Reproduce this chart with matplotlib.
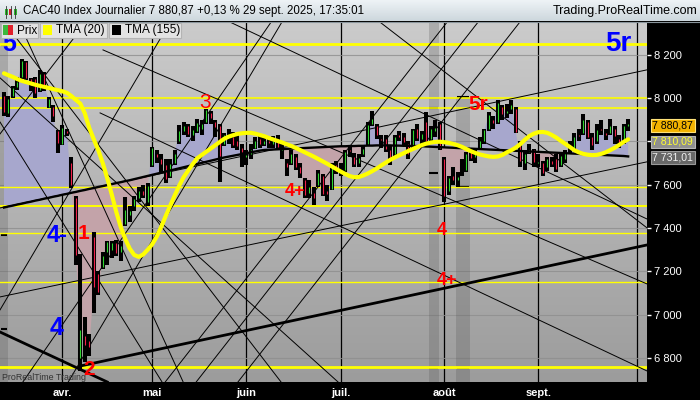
import numpy as np
import matplotlib.pyplot as plt
from matplotlib.colors import LinearSegmentedColormap
from matplotlib.patches import Rectangle
from matplotlib.transforms import blended_transform_factory

plt.rcParams['font.family'] = ['Liberation Sans', 'DejaVu Sans']

# CAC40 daily bars, 13 mars -> 29 sept. 2025 (one entry per trading day)
opens = [8010, 7930, 8010, 8050, 8100, 8165, 8090, 8090, 8040, 8110,
         7960, 7960, 7850, 7790, 7850, 7700, 7540, 6800, 6900, 6880,
         7360, 7190, 7220, 7290, 7300, 7330, 7290, 7420, 7460, 7500,
         7540, 7570, 7520, 7690, 7740, 7720, 7690, 7640, 7700, 7800,
         7850, 7870, 7830, 7850, 7860, 7890, 7930, 7890, 7870, 7790,
         7830, 7820, 7800, 7770, 7730, 7740, 7770, 7810, 7790, 7800,
         7790, 7810, 7760, 7700, 7700, 7730, 7680, 7620, 7560, 7560,
         7600, 7640, 7570, 7580, 7690, 7660, 7670, 7760, 7730, 7700,
         7740, 7790, 7880, 7870, 7810, 7810, 7760, 7740, 7830, 7820,
         7790, 7770, 7860, 7810, 7890, 7810, 7850, 7880, 7720, 7570,
         7640, 7620, 7660, 7670, 7750, 7730, 7770, 7800, 7860, 7900,
         7890, 7960, 7930, 7950, 7950, 7790, 7700, 7750, 7760, 7700,
         7700, 7680, 7710, 7720, 7690, 7720, 7760, 7770, 7830, 7840,
         7890, 7820, 7800, 7860, 7840, 7840, 7860, 7810, 7800, 7870]
highs = [8030, 8010, 8055, 8100, 8180, 8172, 8095, 8100, 8130, 8121,
         8006, 7970, 7855, 7876, 7860, 7729, 7550, 7280, 6990, 6910,
         7380, 7200, 7290, 7340, 7340, 7345, 7340, 7545, 7500, 7550,
         7590, 7600, 7610, 7775, 7760, 7740, 7720, 7720, 7760, 7876,
         7890, 7880, 7870, 7905, 7900, 7950, 7940, 7900, 7880, 7840,
         7860, 7845, 7830, 7790, 7760, 7790, 7820, 7835, 7820, 7815,
         7825, 7830, 7790, 7720, 7760, 7740, 7700, 7630, 7620, 7590,
         7670, 7650, 7600, 7700, 7710, 7700, 7760, 7780, 7745, 7740,
         7780, 7890, 7940, 7880, 7830, 7830, 7780, 7830, 7850, 7840,
         7800, 7860, 7880, 7850, 7935, 7870, 7900, 7890, 7730, 7640,
         7680, 7660, 7720, 7750, 7770, 7770, 7820, 7860, 7935, 7920,
         7990, 7970, 7975, 7990, 7960, 7800, 7760, 7790, 7765, 7740,
         7710, 7730, 7730, 7740, 7750, 7760, 7800, 7840, 7860, 7925,
         7900, 7840, 7880, 7900, 7860, 7905, 7870, 7830, 7880, 7905]
lows = [7920, 7915, 8000, 8040, 8090, 8085, 8035, 8000, 8030, 8035,
        7955, 7890, 7747, 7784, 7825, 7585, 7230, 6740, 6780, 6810,
        7010, 7090, 7210, 7230, 7260, 7270, 7250, 7410, 7430, 7480,
        7520, 7540, 7500, 7680, 7700, 7660, 7608, 7630, 7690, 7790,
        7830, 7820, 7800, 7840, 7830, 7880, 7880, 7820, 7613, 7780,
        7790, 7770, 7760, 7680, 7690, 7720, 7765, 7770, 7780, 7770,
        7770, 7760, 7720, 7640, 7690, 7670, 7630, 7540, 7540, 7505,
        7590, 7550, 7525, 7575, 7650, 7640, 7660, 7730, 7680, 7680,
        7730, 7780, 7870, 7810, 7770, 7750, 7690, 7730, 7800, 7780,
        7720, 7760, 7800, 7790, 7790, 7800, 7820, 7760, 7520, 7555,
        7600, 7590, 7640, 7660, 7710, 7700, 7760, 7790, 7850, 7860,
        7880, 7900, 7910, 7925, 7840, 7680, 7670, 7740, 7680, 7680,
        7640, 7665, 7680, 7660, 7680, 7700, 7740, 7760, 7800, 7830,
        7810, 7760, 7790, 7830, 7805, 7830, 7790, 7770, 7790, 7850]
closes = [7938, 7995, 8045, 8073, 8171, 8094, 8060, 8022, 8110, 8050,
          7995, 7916, 7791, 7862, 7840, 7598, 7274, 6930, 6860, 6850,
          7126, 7105, 7273, 7335, 7330, 7286, 7316, 7483, 7481, 7536,
          7573, 7555, 7593, 7770, 7728, 7696, 7626, 7694, 7743, 7850,
          7873, 7836, 7853, 7886, 7883, 7944, 7907, 7865, 7734, 7828,
          7826, 7784, 7779, 7751, 7737, 7763, 7804, 7790, 7804, 7791,
          7804, 7776, 7765, 7684, 7742, 7683, 7656, 7553, 7590, 7537,
          7655, 7558, 7557, 7692, 7666, 7662, 7750, 7756, 7696, 7723,
          7766, 7878, 7902, 7830, 7808, 7766, 7722, 7822, 7823, 7798,
          7744, 7851, 7818, 7834, 7800, 7857, 7862, 7772, 7546, 7632,
          7621, 7635, 7661, 7743, 7722, 7754, 7804, 7855, 7923, 7884,
          7979, 7927, 7939, 7969, 7843, 7709, 7743, 7762, 7704, 7707,
          7654, 7719, 7698, 7675, 7735, 7749, 7762, 7823, 7825, 7897,
          7819, 7786, 7854, 7853, 7830, 7871, 7827, 7795, 7870, 7880.87]

# indicators
tma20 = [8115, 8106, 8098, 8088, 8080, 8074, 8068, 8062, 8057, 8052,
         8047, 8042, 8037, 8032, 8025, 8010, 7992, 7975, 7930, 7862,
         7810, 7760, 7700, 7630, 7555, 7475, 7405, 7350, 7305, 7276,
         7267, 7278, 7300, 7325, 7360, 7405, 7455, 7503, 7550, 7595,
         7635, 7665, 7695, 7722, 7737, 7752, 7767, 7782, 7797, 7812,
         7822, 7829, 7835, 7838, 7840, 7840, 7836, 7830, 7824, 7816,
         7809, 7802, 7795, 7787, 7779, 7770, 7760, 7750, 7740, 7730,
         7719, 7708, 7697, 7685, 7673, 7661, 7650, 7640, 7635, 7636,
         7643, 7652, 7663, 7675, 7689, 7702, 7715, 7726, 7736, 7746,
         7756, 7765, 7774, 7783, 7790, 7795, 7798, 7799, 7797, 7794,
         7789, 7783, 7775, 7765, 7755, 7747, 7740, 7735, 7731, 7729,
         7731, 7738, 7750, 7760, 7772, 7788, 7808, 7825, 7836, 7843,
         7844, 7840, 7830, 7818, 7803, 7789, 7775, 7760, 7750, 7743,
         7739, 7737, 7738, 7743, 7750, 7760, 7771, 7784, 7798, 7810.09]
tma155 = [7495, 7500, 7504, 7509, 7513, 7518, 7522, 7527, 7531, 7536,
          7540, 7545, 7549, 7554, 7558, 7563, 7567, 7572, 7576, 7581,
          7585, 7590, 7594, 7599, 7603, 7608, 7612, 7617, 7621, 7626,
          7631, 7636, 7641, 7646, 7651, 7656, 7661, 7666, 7671, 7676,
          7681, 7686, 7691, 7696, 7701, 7706, 7711, 7716, 7721, 7726,
          7730, 7734, 7738, 7742, 7746, 7750, 7754, 7758, 7761, 7762,
          7763, 7764, 7765, 7766, 7767, 7768, 7769, 7770, 7771, 7772,
          7773, 7774, 7775, 7776, 7777, 7778, 7778, 7779, 7779, 7780,
          7780, 7781, 7781, 7782, 7782, 7782, 7782, 7781, 7781, 7780,
          7780, 7779, 7779, 7778, 7777, 7776, 7775, 7774, 7773, 7772,
          7771, 7770, 7769, 7768, 7767, 7766, 7765, 7764, 7763, 7762,
          7761, 7760, 7759, 7758, 7757, 7756, 7755, 7754, 7753, 7752,
          7751, 7750, 7749, 7748, 7747, 7746, 7745, 7744, 7743, 7742,
          7741, 7740, 7739, 7738, 7737, 7736, 7735, 7734, 7733, 7731.01]

month_pos = [13, 33, 54, 75, 98, 119, 141]
month_lab = ['avr.', 'mai', 'juin', 'juil.', 'août', 'sept.', '']
price_ticks = [6800, 7000, 7200, 7400, 7600, 7800, 8000, 8200]
hidden_ticks = [7800]  # covered by the value tags on the price scale

# horizontal support / resistance levels
levels = [8251, 8000, 7954, 7589, 7500, 7375, 7152, 6760]
level_lw = [2.0, 1.2, 1.2, 1.0, 1.4, 1.0, 1.0, 2.0]

# trend lines (bar index, price) -> (bar index, price)
thin_lines = [(-0.89, 7493, 143.2, 8131), (-0.89, 7082, 143.2, 7706),
              (22.05, 8223, 143.2, 7142), (21.4, 7932, 143.2, 6740),
              (50.3, 8352, 143.2, 7442), (83.7, 8352, 143.2, 7401),
              (4.2, 6689, 59.5, 8352), (14.3, 6689, 61.9, 8352),
              (35.9, 6689, 98.7, 8352), (42.8, 6689, 105.6, 8352),
              (52.1, 6689, 114.9, 8352), (-0.89, 7835, 18.3, 8352),
              (-0.89, 7022, 37.0, 8352), (-0.89, 8094, 74.4, 6689),
              (-0.89, 7890, 35.2, 6689), (3.3, 8352, 39.9, 6689),
              (0.0, 8352, 61.7, 6689)]
thick_lines = [(17.0, 6763, 143.2, 7322), (-0.89, 6920, 23.0, 6689)]

# shaded columns and their small markers
band_start = [-0.89, 94.6, 100.7]
band_end = [0.9, 96.9, 103.8]
band_top = [8352, 8352, 8006]
mark_band = [0, 0, 0, 1, 1, 1, 2, 2, 2]
mark_price = [8246, 7368, 6934, 7954, 7655, 6754, 8006, 7590, 6754]

# wave count labels
wave_txt = ['5', '5r', '3', '5r', '4+', '4', '4+', '4-', '1', '4', '2']
wave_i = [1.1, 136.7, 44.8, 105.6, 64.8, 97.5, 98.7, 11.8, 17.6, 11.8, 19.0]
wave_p = [8251, 8251, 7978, 7969, 7567, 7391, 7160, 7368, 7377, 6938, 6746]
wave_col = ['#0000ff', '#0000ff', '#ff0000', '#ff0000', '#ff0000', '#ff0000',
            '#ff0000', '#0000ff', '#ff0000', '#0000ff', '#ff0000']
wave_size = [18, 20, 15, 15, 13, 13, 13, 17, 15, 18, 15]
wave_bold = [True, True, False, True, True, True, True, True, True, True, True]


def fr(v, dec=0):
    return f'{v:,.{dec}f}'.replace(',', ' ').replace('.', ',')


o = np.array(opens, float)
h = np.array(highs, float)
l = np.array(lows, float)
c = np.array(closes, float)
t20 = np.array(tma20, float)
t155 = np.array(tma155, float)
idx = np.arange(len(c))

fig = plt.figure(figsize=(7, 4), dpi=100, facecolor='black')
ax = fig.add_axes([0, 18 / 400, 647 / 700, 360 / 400])
x0, x1 = -0.89, 143.2
y0, y1 = 6689, 8352

bg = LinearSegmentedColormap.from_list('bg', ['#cbcbcb', '#9c9c9c'])
ax.imshow(np.linspace(0, 1, 200).reshape(-1, 1), cmap=bg, aspect='auto',
          extent=[x0, x1, y0, y1], origin='upper', zorder=0)

for a, b, top in zip(band_start, band_end, band_top):
    ax.fill_between([a, b], y0, top, color='#555555', alpha=0.25, lw=0, zorder=1)
for k, p in zip(mark_band, mark_price):
    ax.hlines(p, band_start[k] + 0.15, band_end[k] - 0.15, color='black', lw=1.5, zorder=3)

ax.fill_between(idx, c, t155, where=c >= t155, interpolate=True,
                color='#a7a7cd', lw=0, zorder=2)
ax.fill_between(idx, c, t155, where=c < t155, interpolate=True,
                color='#c3a3a9', lw=0, zorder=2)

for p, w in zip(levels, level_lw):
    ax.axhline(p, color='#ffff00', lw=w, zorder=3)

for a, pa, b, pb in thin_lines:
    ax.plot([a, b], [pa, pb], color='black', lw=0.7, zorder=3)
for a, pa, b, pb in thick_lines:
    ax.plot([a, b], [pa, pb], color='black', lw=2.0, zorder=3)

# bars: black body low->high, coloured open->close line inside
ax.vlines(idx, l, h, color='black', lw=2.9, zorder=4, capstyle='butt')
up = c >= o
ax.vlines(idx[up], o[up], c[up], color='#2fd62f', lw=0.8, zorder=5)
ax.vlines(idx[~up], o[~up], c[~up], color='#f0204a', lw=0.8, zorder=5)

ax.plot(idx, t155, color='black', lw=1.7, zorder=5)
ax.plot(idx, t20, color='#ffff00', lw=3.0, zorder=6, solid_capstyle='round')

for t, i, p, col, s, b in zip(wave_txt, wave_i, wave_p, wave_col, wave_size, wave_bold):
    ax.text(i, p, t, color=col, fontsize=s, ha='center', va='center',
            fontweight='bold' if b else 'normal', zorder=7)

ax.set_xlim(x0, x1)
ax.set_ylim(y0, y1)
ax.set_axisbelow(True)
ax.set_xticks(month_pos)
ax.set_xticklabels(month_lab, fontweight='bold')
ax.set_yticks(price_ticks)
ax.set_yticklabels(['' if v in hidden_ticks else fr(v) for v in price_ticks])
ax.yaxis.tick_right()
ax.tick_params(axis='y', colors='white', length=3, width=1, pad=2, labelsize=8)
ax.tick_params(axis='x', colors='white', length=0, pad=4, labelsize=8)
ax.grid(True, axis='x', color='black', lw=0.9)
ax.grid(True, axis='y', color='#8e8e8e', lw=0.8, alpha=0.8)
for s in ax.spines.values():
    s.set_visible(False)

blend = blended_transform_factory(ax.transAxes, ax.transData)
ax.text(0.003, y0 + 2, 'ProRealTime Trading', transform=blend,
        fontsize=6.4, color='#333333', ha='left', va='bottom', zorder=8)

# last value tags on the price scale
tag_vals = [c[-1], t20[-1], t155[-1]]
tag_shift = [1.5, 2.5, 1.2]
tag_fc = ['#f2b200', '#8f8f8f', '#676767']
tag_ec = ['#ffe27a', '#b5b5b5', '#9a9a9a']
tag_tc = ['black', '#ffff30', '#f2f2f2']
for v, dy, fc, ec, tc in zip(tag_vals, tag_shift, tag_fc, tag_ec, tag_tc):
    ax.annotate(fr(v, 2), xy=(1.0085, v), xycoords=blend, xytext=(0, -dy),
                textcoords='offset pixels', fontsize=7.6, color=tc,
                ha='left', va='center', annotation_clip=False, zorder=9,
                bbox=dict(boxstyle='square,pad=0.12', fc=fc, ec=ec, lw=0.8))

# chrome: title bar and legend, drawn in pixel units
ov = fig.add_axes([0, 0, 1, 1])
ov.set_zorder(10)
ov.axis('off')
tb = LinearSegmentedColormap.from_list('tb', ['#eef3f6', '#cdd7dd'])
ov.imshow(np.linspace(0, 1, 50).reshape(-1, 1), cmap=tb, aspect='auto',
          extent=[0, 700, 21, 0], origin='upper')
ov.plot([0, 700], [21.5, 21.5], color='#8a959c', lw=0.8)
ov.set_xlim(0, 700)
ov.set_ylim(400, 0)

for xi, col in zip([6, 10.5, 15], ['#2fb82f', '#d02030', '#2fb82f']):
    ov.plot([xi, xi], [6, 18], color='#333333', lw=0.6)
    ov.add_patch(Rectangle((xi - 1.5, 9), 3, 6, fc=col, ec='none'))
fig.text(23 / 700, 1 - 11 / 400, 'CAC40 Index Journalier 7 880,87 +0,13 % 29 sept. 2025, 17:35:01',
         fontsize=8.3, color='black', ha='left', va='center', zorder=12)
fig.text(697 / 700, 1 - 11 / 400, 'Trading.ProRealTime.com', fontsize=9,
         color='black', ha='right', va='center', zorder=12)

leg_box = [(1, 38), (40, 107), (109, 181)]
leg_txt = ['Prix', 'TMA (20)', 'TMA (155)']
leg_col = [None, '#ffff00', 'black']
for (a, b), t, col in zip(leg_box, leg_txt, leg_col):
    ov.add_patch(Rectangle((a, 22.5), b - a, 15.5, fc='#e3e3e3', ec='#b4b4b4', lw=0.8))
    if col is None:
        ov.add_patch(Rectangle((a + 2, 25), 5, 10, fc='#3cb83c', ec='none'))
        ov.add_patch(Rectangle((a + 7, 25), 5, 10, fc='#e0202a', ec='none'))
    else:
        ov.add_patch(Rectangle((a + 2.5, 25), 9.5, 10, fc=col, ec='none'))
    ov.text(a + 16, 30.5, t, fontsize=8.5, color='black', ha='left', va='center')

fig.savefig('out.png', dpi=100, facecolor=fig.get_facecolor())
